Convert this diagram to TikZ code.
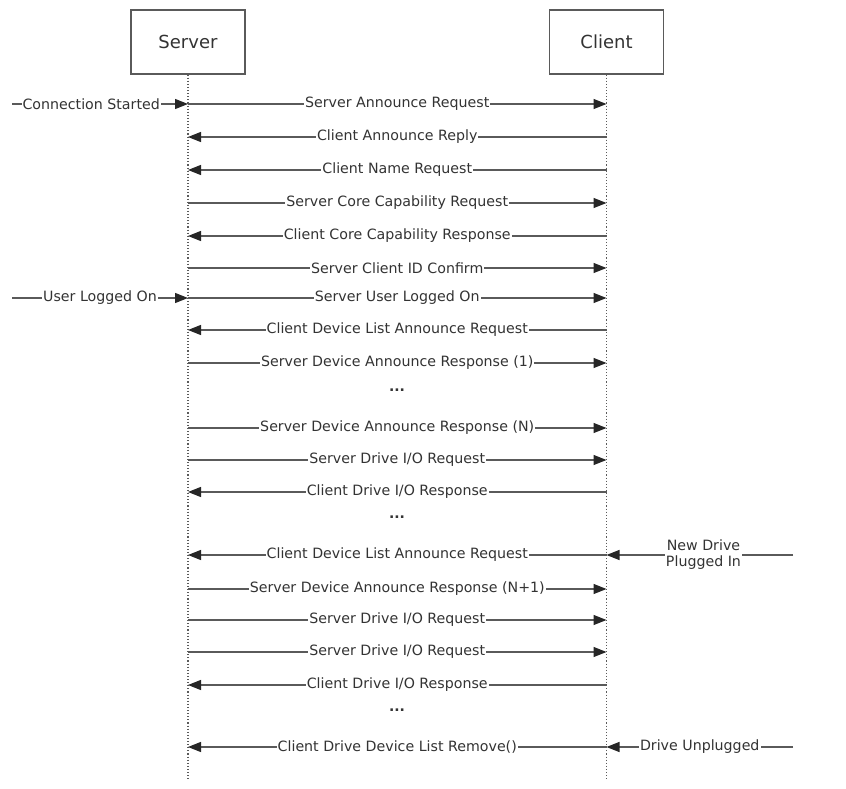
\documentclass[tikz,border=0pt]{standalone}
\usepackage{fontspec}
\setmainfont{DejaVu Sans}
\usetikzlibrary{arrows.meta}
\definecolor{ln}{HTML}{5A5A5A}
\definecolor{tx}{HTML}{333333}
\tikzset{
  actor/.style={draw=ln, line width=1.1pt, fill=white, minimum width=114pt, minimum height=64pt, inner sep=0pt, font=\fontsize{18}{20}\selectfont, text=tx},
  lifeline/.style={draw=ln, line width=1.1pt, dotted},
  msg/.style={draw=ln, line width=1.2pt, -{Triangle[length=13pt,width=10pt,color=black!85]}},
  lbl/.style={fill=white, inner sep=1pt, text=tx, font=\fontsize{14.2}{16}\selectfont},
  dotsl/.style={text=tx, font=\fontsize{14}{15}\selectfont\bfseries}
}
\begin{document}
\begin{tikzpicture}[x=1pt,y=-1pt]
\useasboundingbox[fill=white] (0,0) rectangle (846,789);
\node[actor] (srv) at (188,42) {Server};
\node[actor] (cli) at (606.5,42) {Client};
\coordinate (srvend) at (188,781);
\coordinate (cliend) at (606.5,781);
\draw[lifeline] (srv.south) -- (srvend);
\draw[lifeline] (cli.south) -- (cliend);

% row coordinates
\foreach \n/\y in {a/104,b/137,c/170,d/203,e/236,f/268,g/298,h/330,i/363,j/428,k/460,l/492,m/555,n/589,o/620,p/652,q/685,r/747}{
  \coordinate (s\n) at (188,\y);
  \coordinate (c\n) at (606.5,\y);
}
\coordinate (extA) at (12,104);
\coordinate (extG) at (12,298);
\coordinate (extM) at (793,555);
\coordinate (extR) at (793,747);

\draw[msg] (extA) -- node[lbl, pos=0.45]{Connection Started} (sa);
\draw[msg] (sa) -- node[lbl]{Server Announce Request} (ca);
\draw[msg] (cb) -- node[lbl]{Client Announce Reply} (sb);
\draw[msg] (cc) -- node[lbl]{Client Name Request} (sc);
\draw[msg] (sd) -- node[lbl]{Server Core Capability Request} (cd);
\draw[msg] (ce) -- node[lbl]{Client Core Capability Response} (se);
\draw[msg] (sf) -- node[lbl]{Server Client ID Confirm} (cf);
\draw[msg] (extG) -- node[lbl, pos=0.5]{User Logged On} (sg);
\draw[msg] (sg) -- node[lbl]{Server User Logged On} (cg);
\draw[msg] (ch) -- node[lbl]{Client Device List Announce Request} (sh);
\draw[msg] (si) -- node[lbl]{Server Device Announce Response (1)} (ci);
\node[dotsl] (dots1) at (397,390) {...};
\draw[msg] (sj) -- node[lbl]{Server Device Announce Response (N)} (cj);
\draw[msg] (sk) -- node[lbl]{Server Drive I/O Request} (ck);
\draw[msg] (cl) -- node[lbl]{Client Drive I/O Response} (sl);
\node[dotsl] (dots2) at (397,517) {...};
\draw[msg] (cm) -- node[lbl]{Client Device List Announce Request} (sm);
\draw[msg] (extM) -- node[lbl, pos=0.48, align=center, font=\fontsize{14.2}{16}\selectfont]{New Drive\\Plugged In} (cm);
\draw[msg] (sn) -- node[lbl]{Server Device Announce Response (N+1)} (cn);
\draw[msg] (so) -- node[lbl]{Server Drive I/O Request} (co);
\draw[msg] (sp) -- node[lbl]{Server Drive I/O Request} (cp);
\draw[msg] (cq) -- node[lbl]{Client Drive I/O Response} (sq);
\node[dotsl] (dots3) at (397,710) {...};
\draw[msg] (cr) -- node[lbl]{Client Drive Device List Remove()} (sr);
\draw[msg] (extR) -- node[lbl, pos=0.5]{Drive Unplugged} (cr);
\end{tikzpicture}
\end{document}
